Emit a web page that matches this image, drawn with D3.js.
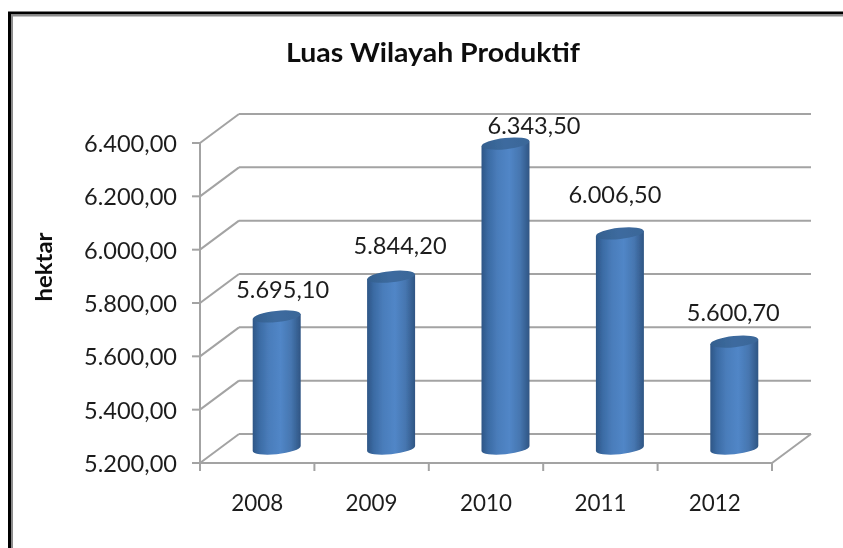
<!DOCTYPE html>
<html><head><meta charset="utf-8">
<style>html,body{margin:0;padding:0;background:#fff;overflow:hidden}svg{display:block}text{font-family:"Lato",sans-serif;fill:#1f1f1f}</style>
<script src="https://cdn.jsdelivr.net/npm/d3@7"></script></head>
<body><svg id="c" width="843" height="548"></svg>
<script>
const years = ["2008","2009","2010","2011","2012"];
const luas = [5695.10,5844.20,6343.50,6006.50,5600.70];
const yTicks = [5200,5400,5600,5800,6000,6200,6400];
const titleText = "Luas Wilayah Produktif";
const yAxisTitle = "hektar";

const W=843,H=548;
const x0=200,x1=772,yB=463,yT=143,dx=39,dy=29;
const labelShift=[[6,-18.5],[9,-22.5],[28.5,-10],[-5,-30.5],[-1,-21]];
const svg=d3.select("#c");
const loc=d3.formatLocale({decimal:",",thousands:".",grouping:[3],currency:["",""]});
const fmt=loc.format(",.2f");
const x=d3.scaleBand().domain(years).range([x0,x1]);
const y=d3.scaleLinear().domain([5200,6400]).range([yB,yT]);
const axisCol="#a3a3a3";

const defs=svg.append("defs");
const soft=defs.append("filter").attr("id","soft").attr("x","-5%").attr("y","-5%").attr("width","110%").attr("height","110%");
soft.append("feGaussianBlur").attr("stdDeviation",0.45);
const g1=defs.append("linearGradient").attr("id","cyl");
[[0,"#2e5686"],[0.14,"#3b6ba4"],[0.34,"#4a7dbb"],[0.58,"#5186c7"],[0.8,"#4676b0"],[1,"#2f5583"]].forEach(s=>g1.append("stop").attr("offset",s[0]).attr("stop-color",s[1]));
const g2=defs.append("linearGradient").attr("id","cap");
[[0,"#34608f"],[0.5,"#3d6b9f"],[1,"#3a6698"]].forEach(s=>g2.append("stop").attr("offset",s[0]).attr("stop-color",s[1]));

// photo frame
svg.append("path").attr("d",`M9.5 ${H}V13H${W}`).attr("fill","none").attr("stroke","#000").attr("stroke-width",3);
svg.append("path").attr("d",`M12 ${H}V15.5H${W}`).attr("fill","none").attr("stroke","#8c8c8c").attr("stroke-width",2);

const g=svg.append("g").attr("filter","url(#soft)");
const line=(a,b,c,d)=>g.append("line").attr("x1",a).attr("y1",b).attr("x2",c).attr("y2",d).attr("stroke",axisCol).attr("stroke-width",2);

// back wall gridlines + side wall diagonals + value ticks
yTicks.forEach(t=>{
  const p=y(t);
  line(x0,p,x0+dx,p-dy);
  line(x0+dx,p-dy,x1+dx,p-dy);
  line(x0-8,p,x0,p);
});
// floor
line(x0,yB,x1,yB); line(x1,yB,x1+dx,yB-dy); line(x0,yT,x0,yB);
years.concat(["end"]).forEach((d,i)=>{const p=x0+i*x.bandwidth();line(p,yB,p,yB+8);});

// cylinders
const rx=24,ry=5.6,rot=-6,slope=2.4;
const mid=g.append("g");
years.forEach((d,i)=>{
  const cx=x(d)+x.bandwidth()/2+dx/2;
  const top=y(luas[i])-dy/2, base=y(5200)-dy/2;
  mid.append("path")
    .attr("d",`M${cx-rx} ${top+slope}L${cx-rx} ${base+slope}A${rx} ${ry} ${rot} 0 0 ${cx+rx} ${base-slope}L${cx+rx} ${top-slope}Z`)
    .attr("fill","url(#cyl)");
  mid.append("ellipse").attr("cx",0).attr("cy",0).attr("rx",rx).attr("ry",ry)
    .attr("transform",`translate(${cx},${top}) rotate(${rot})`).attr("fill","url(#cap)");
});

// value axis labels
g.selectAll(".yl").data(yTicks).join("text").attr("class","yl")
  .attr("x",177).attr("y",d=>y(d)+9).attr("text-anchor","end")
  .attr("font-size",24).text(d=>fmt(d))
  .attr("textLength",93).attr("lengthAdjust","spacingAndGlyphs");
// category labels
g.selectAll(".xl").data(years).join("text").attr("class","xl")
  .attr("x",d=>x(d)+x.bandwidth()/2).attr("y",511).attr("text-anchor","middle")
  .attr("font-size",23.5).text(d=>d).attr("textLength",52).attr("lengthAdjust","spacingAndGlyphs");
// data labels
g.selectAll(".dl").data(luas).join("text").attr("class","dl")
  .attr("x",(d,i)=>x(years[i])+x.bandwidth()/2+dx/2+labelShift[i][0])
  .attr("y",(d,i)=>y(d)-dy/2+labelShift[i][1]).attr("text-anchor","middle")
  .attr("font-size",24).text(d=>fmt(d)).attr("textLength",93).attr("lengthAdjust","spacingAndGlyphs");
// titles
g.append("text").attr("x",433).attr("y",62).attr("text-anchor","middle")
  .attr("font-size",26).attr("font-weight",700).style("fill","#111").text(titleText)
  .attr("textLength",294).attr("lengthAdjust","spacingAndGlyphs");
g.append("text").attr("transform","translate(52,267) rotate(-90)").attr("text-anchor","middle")
  .attr("font-size",23).attr("font-weight",700).style("fill","#111").text(yAxisTitle)
  .attr("textLength",69).attr("lengthAdjust","spacingAndGlyphs");
</script></body></html>
